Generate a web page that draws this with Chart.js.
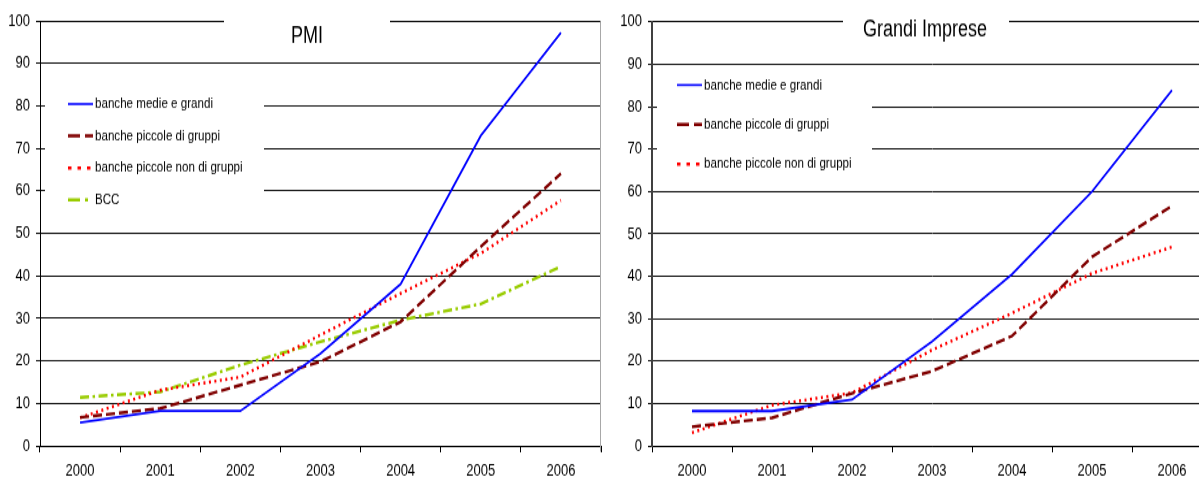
<!DOCTYPE html>
<html>
<head>
<meta charset="utf-8">
<script src="https://cdn.jsdelivr.net/npm/chart.js@4.4.1/dist/chart.umd.min.js"></script>
<style>
  html, body { margin: 0; padding: 0; background: #fff; }
  #wrap { position: relative; width: 1199px; height: 477px; overflow: hidden; background: #fff; }
  /* charts are laid out on a shorter canvas and shown stretched to full height */
  #gi  { position: absolute; left: 600px; top: 0; width: 620px; height: 477px; }
  #pmi { position: absolute; left: 0; top: 0; width: 602px; height: 477px; }
</style>
</head>
<body>
<div id="wrap">
  <canvas id="gi" width="620" height="367" style="width:620px;height:477px"></canvas>
  <canvas id="pmi" width="602" height="367" style="width:602px;height:477px"></canvas>
</div>
<script>
// Categories and tick values
const years = ['2000', '2001', '2002', '2003', '2004', '2005', '2006'];
const yTickValues = [0, 10, 20, 30, 40, 50, 60, 70, 80, 90, 100];

// Series names
const seriesNames = [
  'banche medie e grandi',
  'banche piccole di gruppi',
  'banche piccole non di gruppi',
  'BCC'
];

// PMI panel
const pmiMedieGrandi      = [5.5, 8.2, 8.2, 21.7, 38.1, 73.0, 97.3];
const pmiPiccoleGruppi    = [6.7, 8.8, 14.3, 19.8, 29.2, 46.9, 64.1];
const pmiPiccoleNonGruppi = [6.6, 13.1, 16.2, 26.1, 35.9, 45.3, 57.8];
const pmiBCC              = [11.4, 12.7, 19.0, 24.5, 29.6, 33.4, 42.2];

// Grandi Imprese panel
const giMedieGrandi      = [8.2, 8.2, 10.9, 24.6, 40.5, 60.0, 83.9];
const giPiccoleGruppi    = [4.5, 6.6, 12.4, 17.6, 25.9, 44.6, 56.6];
const giPiccoleNonGruppi = [3.1, 9.6, 12.5, 22.6, 31.3, 40.7, 46.9];

const FONT = "'Liberation Sans', Arial, Helvetica, sans-serif";

const lineStyles = [
  { color: '#0000ff', width: 1.8, dash: [] },
  { color: '#800000', width: 2.4, dash: [9, 4] },
  { color: '#ff0000', width: 2.4, dash: [2, 3.5] },
  { color: '#99cc00', width: 2.4, dash: [9, 3.5, 2.5, 3.5] }
];

// Title and inset legend drawn inside the plot area, on a white patch
const panelDecor = {
  id: 'panelDecor',
  beforeDatasetsDraw(chart, args, o) {
    const { ctx, chartArea: a } = chart;
    ctx.save();

    if (o.rightFrame) {
      ctx.strokeStyle = '#a8a8a8';
      ctx.lineWidth = 1;
      ctx.beginPath();
      ctx.moveTo(a.right - 0.5, a.top);
      ctx.lineTo(a.right - 0.5, a.bottom + 4.5);
      ctx.stroke();
    }

    // title patch + text
    ctx.fillStyle = '#fff';
    ctx.fillRect(o.title.x0, a.top - 3, o.title.x1 - o.title.x0, 26);
    ctx.fillStyle = '#000';
    ctx.font = `18px ${FONT}`;
    ctx.textAlign = 'center';
    ctx.textBaseline = 'middle';
    ctx.fillText(o.title.text, o.title.cx, o.title.cy);

    // legend patch
    const L = o.legend;
    ctx.fillStyle = '#fff';
    ctx.fillRect(a.left + 5, L.top, L.right - a.left - 5, L.bottom - L.top);

    chart.data.datasets.forEach((ds, i) => {
      const y = L.y0 + i * L.gap;
      ctx.save();
      ctx.strokeStyle = ds.borderColor;
      ctx.lineWidth = L.widths[i];
      ctx.setLineDash(L.dash[i] || []);
      ctx.beginPath();
      ctx.moveTo(L.x0, y);
      ctx.lineTo(L.x0 + 25, y);
      ctx.stroke();
      ctx.restore();
      ctx.fillStyle = '#000';
      ctx.font = `11.6px ${FONT}`;
      ctx.textAlign = 'left';
      ctx.textBaseline = 'middle';
      ctx.fillText(ds.label, L.x0 + 27, y);
    });
    ctx.restore();
  }
};

function buildDatasets(seriesList) {
  return seriesList.map((values, i) => ({
    label: seriesNames[i],
    data: values,
    borderColor: lineStyles[i].color,
    backgroundColor: lineStyles[i].color,
    borderWidth: lineStyles[i].width,
    borderDash: lineStyles[i].dash,
    pointRadius: 0,
    pointHoverRadius: 0,
    fill: false,
    tension: 0
  }));
}

function buildOptions(padding, decor) {
  return {
    responsive: false,
    devicePixelRatio: 1,
    animation: false,
    events: [],
    layout: { padding },
    plugins: {
      legend: { display: false },
      tooltip: { enabled: false },
      title: { display: false },
      panelDecor: decor
    },
    scales: {
      x: {
        type: 'category',
        offset: true,
        grid: { offset: true, drawOnChartArea: false, drawTicks: true, tickLength: 5, color: '#000', lineWidth: 1 },
        border: { display: true, color: '#000', width: 1 },
        ticks: { font: { family: FONT, size: 13 }, color: '#000', padding: 7, maxRotation: 0, autoSkip: false },
        afterFit: s => { s.height = 24; }
      },
      y: {
        min: 0,
        max: 100,
        afterBuildTicks: s => { s.ticks = yTickValues.map(v => ({ value: v })); },
        grid: { color: '#111', lineWidth: 1, drawTicks: true, tickLength: 4 },
        border: { display: true, color: decor.axisColor, width: decor.axisWidth },
        ticks: { font: { family: FONT, size: 13 }, color: '#000', padding: 6 },
        afterFit: s => { s.width = 40; }
      }
    }
  };
}

function draw() {
  new Chart(document.getElementById('pmi'), {
    type: 'line',
    data: {
      labels: years,
      datasets: buildDatasets([pmiMedieGrandi, pmiPiccoleGruppi, pmiPiccoleNonGruppi, pmiBCC])
    },
    options: buildOptions({ left: 0, right: 1, top: 16.2, bottom: 0 }, {
      rightFrame: true,
      axisColor: '#000',
      axisWidth: 1,
      title: { text: 'PMI', cx: 307, cy: 28.5, x0: 224, x1: 390 },
      legend: {
        x0: 68, y0: 80, gap: 24.6, top: 56, bottom: 167, right: 264,
        widths: [1.6, 2.5, 2.5, 2.5],
        dash: [[], [12, 5], [3.5, 6], [12, 5, 3, 5]]
      }
    }),
    plugins: [panelDecor]
  });

  new Chart(document.getElementById('gi'), {
    type: 'line',
    data: {
      labels: years,
      datasets: buildDatasets([giMedieGrandi, giPiccoleGruppi, giPiccoleNonGruppi])
    },
    options: buildOptions({ left: 12, right: 8, top: 16.9, bottom: 0 }, {
      rightFrame: false,
      axisColor: '#404040',
      axisWidth: 2,
      title: { text: 'Grandi Imprese', cx: 325, cy: 23.5, x0: 243, x1: 409 },
      legend: {
        x0: 77, y0: 65.4, gap: 30.4, top: 54, bottom: 138, right: 272,
        widths: [1.6, 2.5, 2.5],
        dash: [[], [12, 5], [3.5, 6]]
      }
    }),
    plugins: [panelDecor]
  });
}

if (document.fonts && document.fonts.load) {
  Promise.all([
    document.fonts.load(`13px ${FONT}`),
    document.fonts.load(`18px ${FONT}`)
  ]).then(draw, draw);
} else {
  draw();
}
</script>
</body>
</html>
